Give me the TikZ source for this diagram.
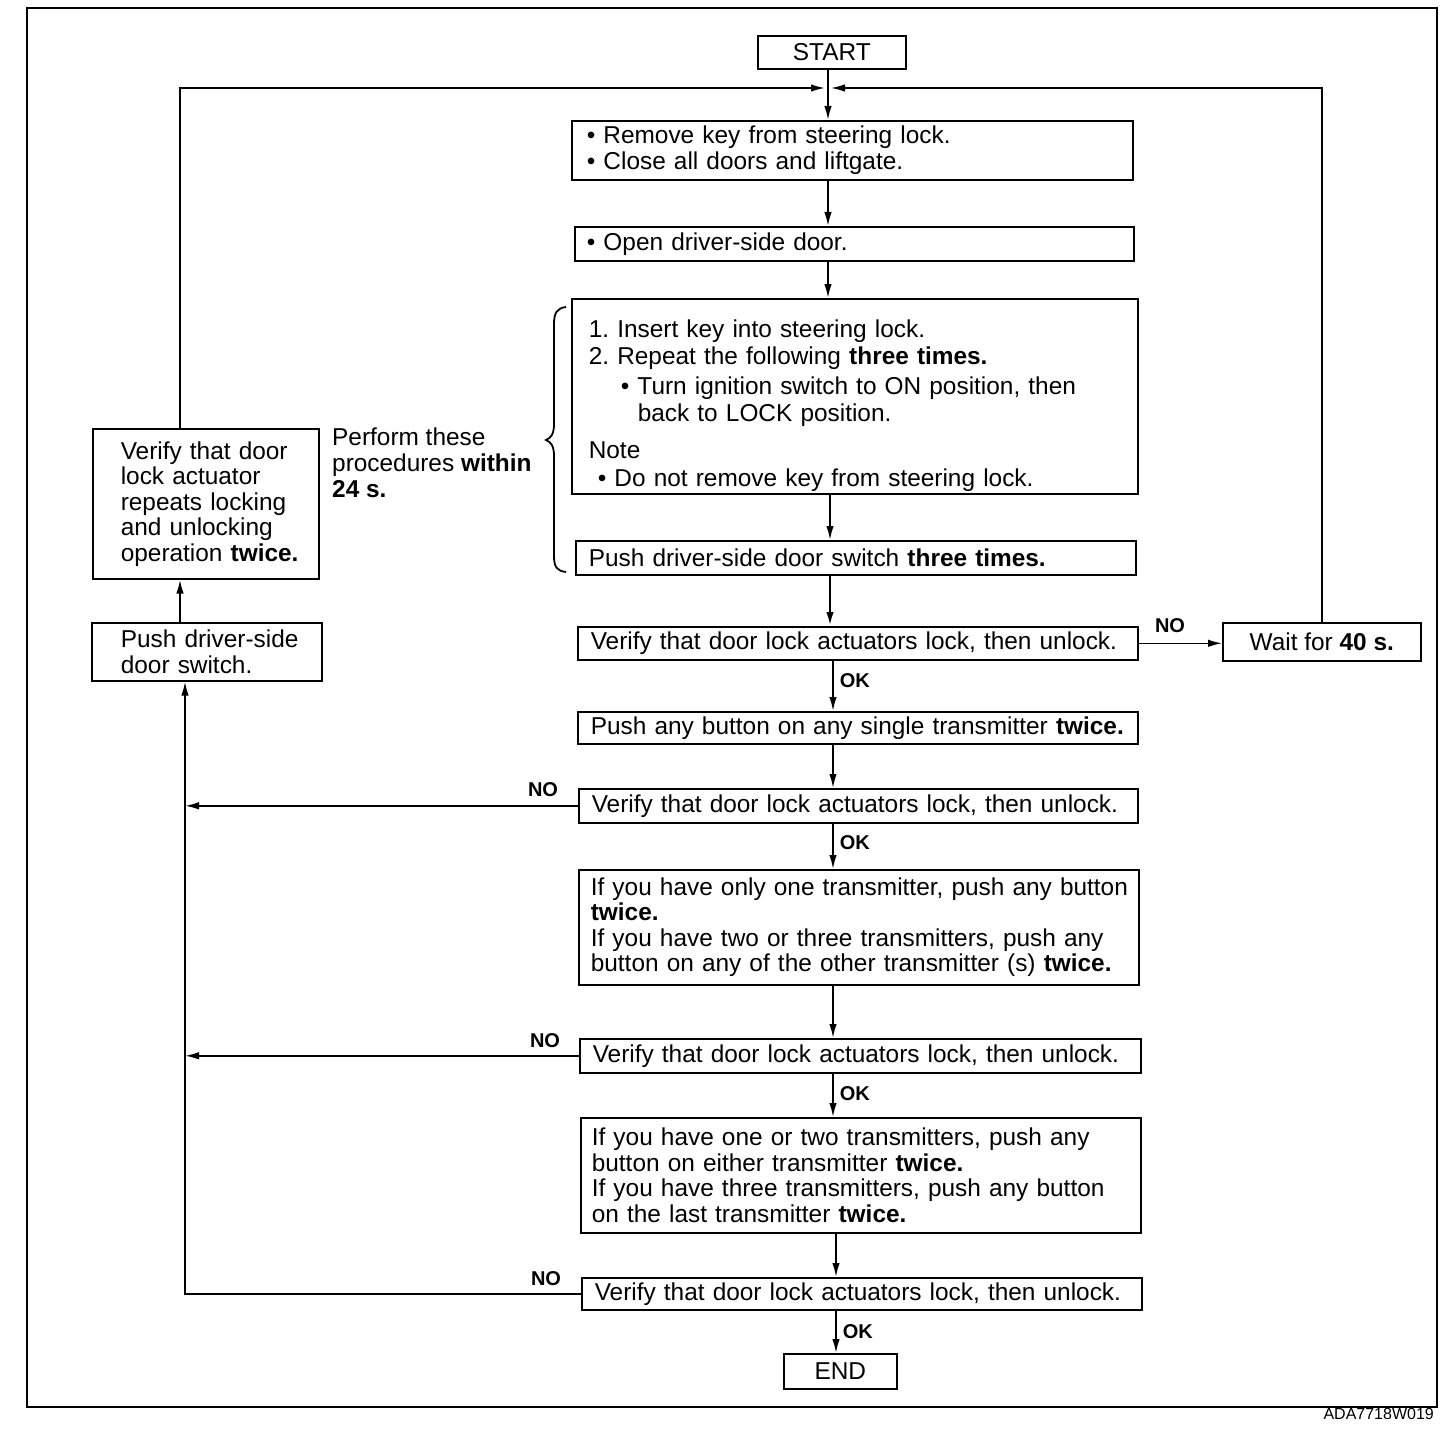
\documentclass[tikz,border=0pt]{standalone}
\usepackage{fontspec}
\setmainfont{Liberation Sans}
\usetikzlibrary{arrows.meta}
\begin{document}
\frenchspacing
\hbadness=10000 \hfuzz=200pt
\begin{tikzpicture}[x=1pt,y=-1pt,
  box/.style={draw,line width=1.6pt,rectangle,anchor=north west,inner ysep=0pt,
    font=\fontsize{24.4}{25.5}\selectfont,align=left},
  cbox/.style={draw,line width=1.6pt,rectangle,anchor=north west,inner sep=0pt,
    font=\fontsize{24.4}{25.5}\selectfont,align=center},
  conn/.style={line width=1.8pt},
  arr/.style={line width=1.8pt,-{Latex[length=14pt,width=7.5pt]}},
  lab/.style={font=\fontsize{20}{22}\selectfont\bfseries,inner sep=0pt}]
\useasboundingbox (0,0) rectangle (1456,1434);
% outer frame
\draw[line width=1.4pt] (27,8) rectangle (1437,1407);
% coordinates for connector lines
\coordinate (X0) at (828,0);
\coordinate (X1) at (830,0);
\coordinate (X2) at (833,0);
\coordinate (X3) at (836,0);
\coordinate (J) at (828,88);
\coordinate (LA) at (180,88);
\coordinate (LB) at (185,0);
% main column
\node[cbox,minimum width=148,minimum height=33] (start) at (757,35) {START};
\node[box,minimum width=561,minimum height=59,inner xsep=15,text width=531] (b1) at (571,120)
  {\mbox{• Remove key from steering lock.}\\\mbox{• Close all doors and liftgate.}};
\node[box,minimum width=559,minimum height=34,inner xsep=12,text width=535] (b2) at (574,226)
  {\mbox{• Open driver-side door.}};
\node[box,minimum width=566,minimum height=195,inner xsep=17,text width=532,
  font=\fontsize{24.4}{27}\selectfont] (b3) at (571,298)
  {\mbox{\rule{0pt}{36pt}1. Insert key into steering lock.}\\
   \mbox{2. Repeat the following \textbf{three times.}}\\[3pt]
   \mbox{\hspace*{32pt}• Turn ignition switch to ON position, then}\\
   \mbox{\hspace*{49pt}back to LOCK position.}\\[10pt]
   \mbox{Note}\\[1pt]
   \mbox{\hspace*{9pt}• Do not remove key from steering lock.}};
\node[box,minimum width=560,minimum height=34,inner xsep=13,text width=534] (b4) at (575,540)
  {\mbox{Push driver-side door switch \textbf{three times.}}};
\node[box,minimum width=560,minimum height=33,inner xsep=13,text width=534] (v1) at (577,626)
  {\mbox{Verify that door lock actuators lock, then unlock.}};
\node[cbox,minimum width=198,minimum height=38] (wait) at (1222,622)
  {Wait for \textbf{40 s.}};
\node[box,minimum width=560,minimum height=32,inner xsep=13,text width=534] (b6) at (577,711)
  {\mbox{Push any button on any single transmitter \textbf{twice.}}};
\node[box,minimum width=559,minimum height=34,inner xsep=13,text width=533] (v2) at (578,788)
  {\mbox{Verify that door lock actuators lock, then unlock.}};
\node[box,minimum width=560,minimum height=115,inner xsep=12,text width=536] (b8) at (578,869)
  {\mbox{If you have only one transmitter, push any button}\\
   \mbox{\textbf{twice.}}\\
   \mbox{If you have two or three transmitters, push any}\\
   \mbox{button on any of the other transmitter (s) \textbf{twice.}}};
\node[box,minimum width=561,minimum height=34,inner xsep=13,text width=535] (v3) at (579,1038)
  {\mbox{Verify that door lock actuators lock, then unlock.}};
\node[box,minimum width=560,minimum height=115,inner xsep=11,text width=538] (b10) at (580,1117)
  {\mbox{If you have one or two transmitters, push any}\\
   \mbox{button on either transmitter \textbf{twice.}}\\
   \mbox{If you have three transmitters, push any button}\\
   \mbox{on the last transmitter \textbf{twice.}}};
\node[box,minimum width=560,minimum height=32,inner xsep=13,text width=534] (v4) at (581,1277)
  {\mbox{Verify that door lock actuators lock, then unlock.}};
\node[cbox,minimum width=113,minimum height=35] (end) at (783,1353) {END};
% left column
\node[box,minimum width=226,minimum height=150,inner xsep=28,text width=170] (vL) at (92,428)
  {\mbox{Verify that door}\\\mbox{lock actuator}\\\mbox{repeats locking}\\\mbox{and unlocking}\\\mbox{operation \textbf{twice.}}};
\node[box,minimum width=230,minimum height=58,inner xsep=29,text width=172] (pL) at (91,622)
  {\mbox{Push driver-side}\\\mbox{door switch.}};
% side note
\node[anchor=north west,inner sep=0pt,align=left,font=\fontsize{24.4}{26}\selectfont] (note) at (332,428)
  {Perform these\\procedures \textbf{within}\\\textbf{24 s.}};
\draw[line width=1.8pt] (566,307) .. controls (557,308) and (554,313) .. (554,324) -- (554,424)
  .. controls (554,434) and (551,438) .. (546,440) .. controls (551,442) and (554,446) .. (554,456)
  -- (554,556) .. controls (554,567) and (557,571) .. (566,572);
% main connectors
\draw[arr] (start.south -| X0) -- (b1.north -| X0);
\draw[arr] (b1.south -| X0) -- (b2.north -| X0);
\draw[arr] (b2.south -| X0) -- (b3.north -| X0);
\draw[arr] (b3.south -| X1) -- (b4.north -| X1);
\draw[arr,line width=2.4pt] (b4.south -| X1) -- (v1.north -| X1);
\draw[arr] (v1.south -| X2) -- (b6.north -| X2) node[lab,pos=0.4,anchor=west,xshift=6pt] (ok1) {OK};
\draw[arr] (b6.south -| X2) -- (v2.north -| X2);
\draw[arr] (v2.south -| X2) -- (b8.north -| X2) node[lab,pos=0.42,anchor=west,xshift=6pt] (ok2) {OK};
\draw[arr] (b8.south -| X2) -- (v3.north -| X2);
\draw[arr] (v3.south -| X2) -- (b10.north -| X2) node[lab,pos=0.45,anchor=west,xshift=6pt] (ok3) {OK};
\draw[arr] (b10.south -| X3) -- (v4.north -| X3);
\draw[arr] (v4.south -| X3) -- (end.north -| X3) node[lab,pos=0.5,anchor=west,xshift=6pt] (ok4) {OK};
% NO to wait and loop back
\draw[arr,line width=1.4pt] (v1.east) -- (v1.east -| wait.west);
\node[lab] (no1) at (1170,626) {NO};
\draw[arr,line width=1.4pt,shorten >=3pt] (wait.north) -- (wait.north |- J) -- (J);
% left loop
\draw[arr,shorten >=3pt] (vL.north -| LA) -- (LA) -- (J);
\draw[arr] (pL.north -| LA) -- (vL.south -| LA);
\draw[arr] (v2.west) -- (v2.west -| LB);
\draw[arr] (v3.west) -- (v3.west -| LB);
\draw[arr] (v4.west) -- (v4.west -| LB) -- (pL.south -| LB);
\node[lab] (no2) at (543,790) {NO};
\node[lab] (no3) at (545,1041) {NO};
\node[lab] (no4) at (546,1279) {NO};
% code
\node[anchor=north east,inner sep=0pt,font=\fontsize{16}{18}\selectfont] (code) at (1434,1408) {ADA7718W019};
\end{tikzpicture}
\end{document}
